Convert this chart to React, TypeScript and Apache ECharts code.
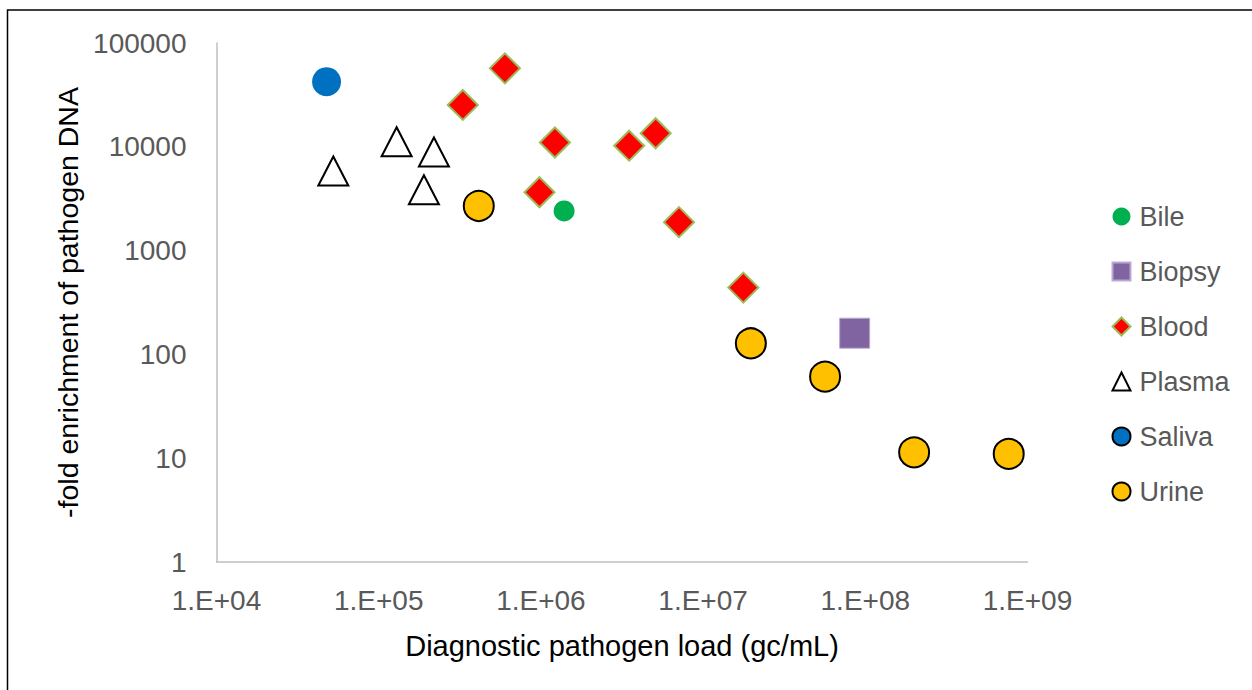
import React, { useEffect, useRef } from "react";
import * as echarts from "echarts";

const seriesNames = ["Bile", "Biopsy", "Blood", "Plasma", "Saliva", "Urine"];

const bileX = [1.39e6];
const bileY = [2410];

const biopsyX = [8.6e7];
const biopsyY = [160];

const bloodX = [3.3e5, 6.0e5, 1.22e6, 9.8e5, 3.5e6, 5.1e6, 7.1e6, 1.77e7];
const bloodY = [25300, 57000, 11000, 3650, 10250, 13500, 1880, 440];

const plasmaX = [5.25e4, 1.29e5, 2.19e5, 1.9e5];
const plasmaY = [5850, 11200, 8900, 3860];

const salivaX = [4.77e4];
const salivaY = [42400];

const urineX = [4.14e5, 1.97e7, 5.65e7, 2.0e8, 7.66e8];
const urineY = [2690, 128, 61, 11.4, 11.0];

const xTickExponents = [4, 5, 6, 7, 8, 9];
const yTickValues = [1, 10, 100, 1000, 10000, 100000];

const xTitle = "Diagnostic pathogen load (gc/mL)";
const yTitle = "-fold enrichment of pathogen DNA";

const zip = (xs: number[], ys: number[]) => xs.map((x, i) => [x, ys[i]]);

const FONT = "'Liberation Sans', Arial, sans-serif";

export default function App() {
  const ref = useRef<HTMLDivElement | null>(null);

  useEffect(() => {
    if (!ref.current) return;
    const chart = echarts.init(ref.current, undefined, { renderer: "svg" });

    const xLabel = (v: number) => {
      const e = Math.round(Math.log10(v));
      if (!xTickExponents.includes(e)) return "";
      return "1.E+" + String(e).padStart(2, "0");
    };
    const yLabel = (v: number) => {
      const r = Math.round(v);
      return yTickValues.includes(r) ? String(r) : "";
    };

    chart.setOption({
      animation: false,
      backgroundColor: "#ffffff",
      textStyle: { fontFamily: FONT },
      graphic: [
        {
          type: "rect",
          shape: { x: 7.5, y: 10, width: 1400, height: 800 },
          style: { fill: "none", stroke: "#000000", lineWidth: 1.5 },
          silent: true,
          z: 0,
        },
      ],
      grid: { left: 216.5, right: 224.5, top: 43, bottom: 128 },
      xAxis: {
        type: "log",
        logBase: 10,
        min: 1e4,
        max: 1e9,
        name: xTitle,
        nameLocation: "middle",
        nameGap: 69,
        nameTextStyle: { color: "#000000", fontSize: 29, fontFamily: FONT },
        axisLine: { show: true, lineStyle: { color: "#BFBFBF", width: 1.5 } },
        axisTick: { show: false },
        splitLine: { show: false },
        minorTick: { show: false },
        axisLabel: {
          color: "#595959",
          fontSize: 28,
          fontFamily: FONT,
          margin: 24,
          formatter: xLabel,
        },
      },
      yAxis: {
        type: "log",
        logBase: 10,
        min: 1,
        max: 100000,
        name: yTitle,
        nameLocation: "middle",
        nameGap: 128,
        nameRotate: 90,
        nameTextStyle: { color: "#000000", fontSize: 28.5, fontFamily: FONT },
        axisLine: { show: true, lineStyle: { color: "#BFBFBF", width: 1.5 } },
        axisTick: { show: false },
        splitLine: { show: false },
        axisLabel: {
          color: "#595959",
          fontSize: 28,
          fontFamily: FONT,
          margin: 30,
          formatter: yLabel,
        },
      },
      legend: {
        orient: "vertical",
        left: 1106.5,
        top: 198,
        padding: 5,
        itemWidth: 18,
        itemHeight: 18,
        itemGap: 28,
        textStyle: {
          color: "#595959",
          fontSize: 27,
          fontFamily: FONT,
          lineHeight: 27,
          padding: [0, 0, 0, 4],
        },
        data: [
          { name: "Bile" },
          { name: "Biopsy" },
          { name: "Blood" },
          { name: "Plasma" },
          { name: "Saliva", itemStyle: { borderColor: "#000000", borderWidth: 2 } },
          { name: "Urine" },
        ],
      },
      series: [
        {
          name: seriesNames[0],
          type: "scatter",
          symbol: "circle",
          symbolSize: 21,
          data: zip(bileX, bileY),
          itemStyle: { color: "#00B050", opacity: 1 },
        },
        {
          name: seriesNames[1],
          type: "scatter",
          symbol: "rect",
          symbolSize: 30,
          data: zip(biopsyX, biopsyY),
          itemStyle: { color: "#8064A2", borderColor: "#B9A9D0", borderWidth: 1, opacity: 1 },
        },
        {
          name: seriesNames[2],
          type: "scatter",
          symbol: "diamond",
          symbolSize: 30,
          data: zip(bloodX, bloodY),
          itemStyle: { color: "#FF0000", borderColor: "#9BBB59", borderWidth: 2, opacity: 1 },
        },
        {
          name: seriesNames[3],
          type: "scatter",
          symbol: "triangle",
          symbolSize: [30, 29],
          data: zip(plasmaX, plasmaY),
          itemStyle: { color: "#FFFFFF", borderColor: "#000000", borderWidth: 2, opacity: 1 },
        },
        {
          name: seriesNames[4],
          type: "scatter",
          symbol: "circle",
          symbolSize: 29,
          data: zip(salivaX, salivaY),
          itemStyle: { color: "#0070C0", opacity: 1 },
        },
        {
          name: seriesNames[5],
          type: "scatter",
          symbol: "circle",
          symbolSize: 30,
          data: zip(urineX, urineY),
          itemStyle: { color: "#FFC000", borderColor: "#000000", borderWidth: 2, opacity: 1 },
        },
      ],
    });

    return () => {
      chart.dispose();
    };
  }, []);

  return (
    <div
      ref={ref}
      style={{ position: "absolute", left: 0, top: 0, width: 1252, height: 690 }}
    />
  );
}
